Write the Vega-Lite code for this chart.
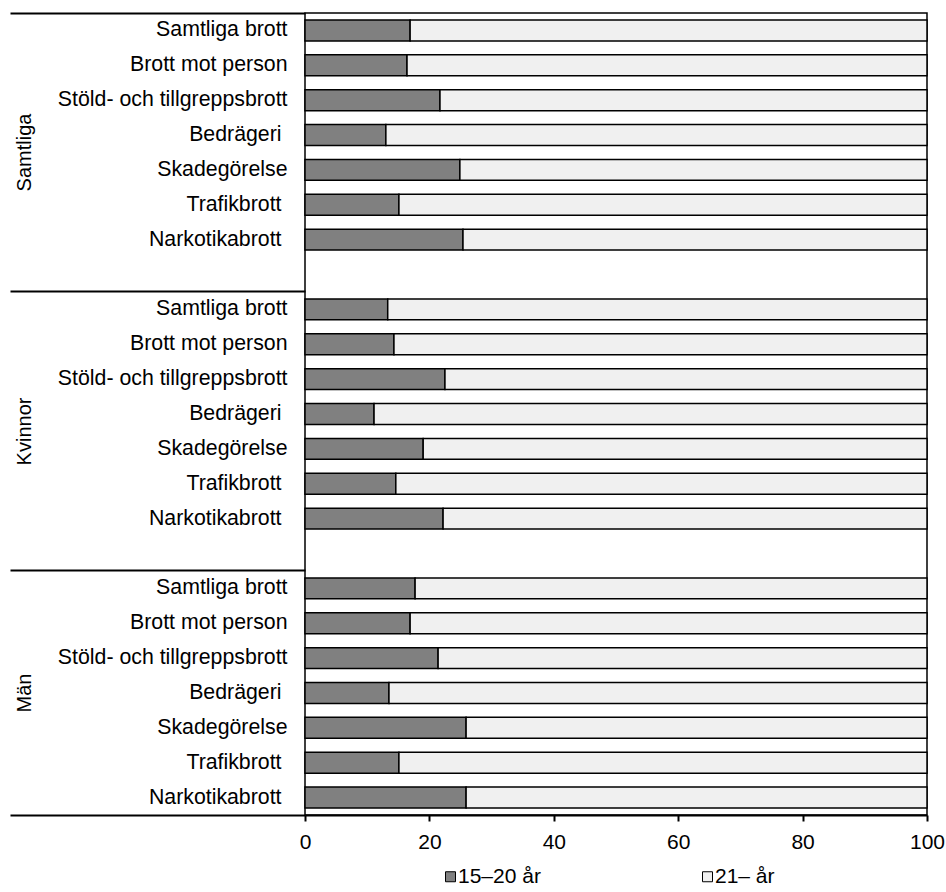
{
  "$schema": "https://vega.github.io/schema/vega-lite/v6.json",
  "width": 622,
  "height": 802,
  "autosize": {"type": "none"},
  "padding": {"left": 305, "top": 13, "right": 19, "bottom": 77},
  "background": "white",
  "config": {
    "font": "Liberation Sans",
    "view": {"stroke": "#000", "strokeWidth": 1.5},
    "axis": {"labelColor": "#000", "labelFont": "Liberation Sans", "grid": false}
  },
  "data": {
    "values": [
      {"rad": "Samtliga/Samtliga brott", "alder": "15–20 år", "andel": 16.9},
      {"rad": "Samtliga/Samtliga brott", "alder": "21– år", "andel": 83.1},
      {"rad": "Samtliga/Brott mot person", "alder": "15–20 år", "andel": 16.4},
      {"rad": "Samtliga/Brott mot person", "alder": "21– år", "andel": 83.6},
      {"rad": "Samtliga/Stöld- och tillgreppsbrott", "alder": "15–20 år", "andel": 21.7},
      {"rad": "Samtliga/Stöld- och tillgreppsbrott", "alder": "21– år", "andel": 78.3},
      {"rad": "Samtliga/Bedrägeri", "alder": "15–20 år", "andel": 13.0},
      {"rad": "Samtliga/Bedrägeri", "alder": "21– år", "andel": 87.0},
      {"rad": "Samtliga/Skadegörelse", "alder": "15–20 år", "andel": 24.9},
      {"rad": "Samtliga/Skadegörelse", "alder": "21– år", "andel": 75.1},
      {"rad": "Samtliga/Trafikbrott", "alder": "15–20 år", "andel": 15.1},
      {"rad": "Samtliga/Trafikbrott", "alder": "21– år", "andel": 84.9},
      {"rad": "Samtliga/Narkotikabrott", "alder": "15–20 år", "andel": 25.4},
      {"rad": "Samtliga/Narkotikabrott", "alder": "21– år", "andel": 74.6},
      {"rad": "Kvinnor/Samtliga brott", "alder": "15–20 år", "andel": 13.3},
      {"rad": "Kvinnor/Samtliga brott", "alder": "21– år", "andel": 86.7},
      {"rad": "Kvinnor/Brott mot person", "alder": "15–20 år", "andel": 14.3},
      {"rad": "Kvinnor/Brott mot person", "alder": "21– år", "andel": 85.7},
      {"rad": "Kvinnor/Stöld- och tillgreppsbrott", "alder": "15–20 år", "andel": 22.5},
      {"rad": "Kvinnor/Stöld- och tillgreppsbrott", "alder": "21– år", "andel": 77.5},
      {"rad": "Kvinnor/Bedrägeri", "alder": "15–20 år", "andel": 11.1},
      {"rad": "Kvinnor/Bedrägeri", "alder": "21– år", "andel": 88.9},
      {"rad": "Kvinnor/Skadegörelse", "alder": "15–20 år", "andel": 19.0},
      {"rad": "Kvinnor/Skadegörelse", "alder": "21– år", "andel": 81.0},
      {"rad": "Kvinnor/Trafikbrott", "alder": "15–20 år", "andel": 14.6},
      {"rad": "Kvinnor/Trafikbrott", "alder": "21– år", "andel": 85.4},
      {"rad": "Kvinnor/Narkotikabrott", "alder": "15–20 år", "andel": 22.2},
      {"rad": "Kvinnor/Narkotikabrott", "alder": "21– år", "andel": 77.8},
      {"rad": "Män/Samtliga brott", "alder": "15–20 år", "andel": 17.7},
      {"rad": "Män/Samtliga brott", "alder": "21– år", "andel": 82.3},
      {"rad": "Män/Brott mot person", "alder": "15–20 år", "andel": 16.9},
      {"rad": "Män/Brott mot person", "alder": "21– år", "andel": 83.1},
      {"rad": "Män/Stöld- och tillgreppsbrott", "alder": "15–20 år", "andel": 21.4},
      {"rad": "Män/Stöld- och tillgreppsbrott", "alder": "21– år", "andel": 78.6},
      {"rad": "Män/Bedrägeri", "alder": "15–20 år", "andel": 13.5},
      {"rad": "Män/Bedrägeri", "alder": "21– år", "andel": 86.5},
      {"rad": "Män/Skadegörelse", "alder": "15–20 år", "andel": 25.9},
      {"rad": "Män/Skadegörelse", "alder": "21– år", "andel": 74.1},
      {"rad": "Män/Trafikbrott", "alder": "15–20 år", "andel": 15.1},
      {"rad": "Män/Trafikbrott", "alder": "21– år", "andel": 84.9},
      {"rad": "Män/Narkotikabrott", "alder": "15–20 år", "andel": 25.9},
      {"rad": "Män/Narkotikabrott", "alder": "21– år", "andel": 74.1}
    ]
  },
  "layer": [
    {
      "mark": {"type": "bar", "height": {"band": 0.6}, "stroke": "#000", "strokeWidth": 1.5},
      "encoding": {
        "y": {
          "field": "rad",
          "type": "nominal",
          "scale": {
            "domain": [
              "Samtliga/Samtliga brott", "Samtliga/Brott mot person", "Samtliga/Stöld- och tillgreppsbrott", "Samtliga/Bedrägeri", "Samtliga/Skadegörelse", "Samtliga/Trafikbrott", "Samtliga/Narkotikabrott", "Samtliga/",
              "Kvinnor/Samtliga brott", "Kvinnor/Brott mot person", "Kvinnor/Stöld- och tillgreppsbrott", "Kvinnor/Bedrägeri", "Kvinnor/Skadegörelse", "Kvinnor/Trafikbrott", "Kvinnor/Narkotikabrott", "Kvinnor/",
              "Män/Samtliga brott", "Män/Brott mot person", "Män/Stöld- och tillgreppsbrott", "Män/Bedrägeri", "Män/Skadegörelse", "Män/Trafikbrott", "Män/Narkotikabrott"
            ],
            "paddingInner": 0,
            "paddingOuter": 0
          },
          "axis": {
            "orient": "left",
            "title": null,
            "domain": false,
            "ticks": false,
            "tickSize": 0,
            "labelPadding": {"condition": {"test": "test(/(Bedrägeri|Trafikbrott|Narkotikabrott)$/, datum.value)", "value": 24}, "value": 18},
            "labelFontSize": 21.3,
            "labelLimit": 0,
            "labelOverlap": false,
            "labelExpr": "split(datum.value,'/')[1]"
          }
        },
        "x": {
          "field": "andel",
          "type": "quantitative",
          "stack": "zero",
          "scale": {"domain": [0, 100], "nice": false},
          "axis": {
            "title": null,
            "values": [0, 20, 40, 60, 80, 100],
            "labelFontSize": 21,
            "labelFlush": false,
            "labelPadding": 10,
            "tickSize": 6,
            "tickColor": "#000",
            "tickWidth": 2,
            "domainColor": "#000",
            "domainWidth": 2
          }
        },
        "color": {
          "field": "alder",
          "type": "nominal",
          "scale": {"domain": ["15–20 år", "21– år"], "range": ["#808080", "#f0f0f0"]},
          "legend": {
            "title": null,
            "orient": "none",
            "direction": "horizontal",
            "legendX": 135,
            "legendY": 853,
            "padding": 0,
            "symbolType": "square",
            "symbolSize": 100,
            "symbolStrokeColor": "#000",
            "symbolStrokeWidth": 1,
            "labelFontSize": 21,
            "labelFont": "Liberation Sans",
            "labelColor": "#000",
            "labelOffset": -3,
            "columnPadding": 156
          }
        },
        "order": {"field": "alder", "type": "nominal", "sort": "ascending"}
      }
    },
    {
      "mark": {"type": "point", "opacity": 0},
      "encoding": {
        "y": {
          "field": "rad",
          "type": "nominal",
          "axis": {
            "orient": "left",
            "title": null,
            "values": ["Samtliga/Samtliga brott", "Kvinnor/Samtliga brott", "Män/Samtliga brott"],
            "bandPosition": 0,
            "domain": false,
            "labels": false,
            "ticks": true,
            "tickSize": 295,
            "tickColor": "#000",
            "tickWidth": 2
          }
        }
      }
    },
    {
      "mark": {"type": "point", "opacity": 0},
      "encoding": {
        "y": {
          "field": "rad",
          "type": "nominal",
          "axis": {
            "orient": "left",
            "title": null,
            "values": ["Män/Narkotikabrott"],
            "bandPosition": 1,
            "domain": false,
            "labels": false,
            "ticks": true,
            "tickSize": 295,
            "tickColor": "#000",
            "tickWidth": 2
          }
        }
      }
    },
    {
      "mark": {"type": "point", "opacity": 0},
      "encoding": {
        "y": {
          "field": "rad",
          "type": "nominal",
          "axis": {
            "orient": "left",
            "title": null,
            "values": ["Samtliga/Skadegörelse", "Kvinnor/Skadegörelse", "Män/Bedrägeri"],
            "domain": false,
            "ticks": false,
            "tickSize": 0,
            "labelAngle": 270,
            "labelAlign": "center",
            "labelBaseline": "alphabetic",
            "labelPadding": 275,
            "labelFontSize": 20,
            "labelOverlap": false,
            "labelOffset": {"condition": {"test": "datum.value === 'Män/Bedrägeri'", "value": 0}, "value": -17.4},
            "labelExpr": "split(datum.value,'/')[0]"
          }
        }
      }
    }
  ],
  "resolve": {"axis": {"y": "independent"}}
}
